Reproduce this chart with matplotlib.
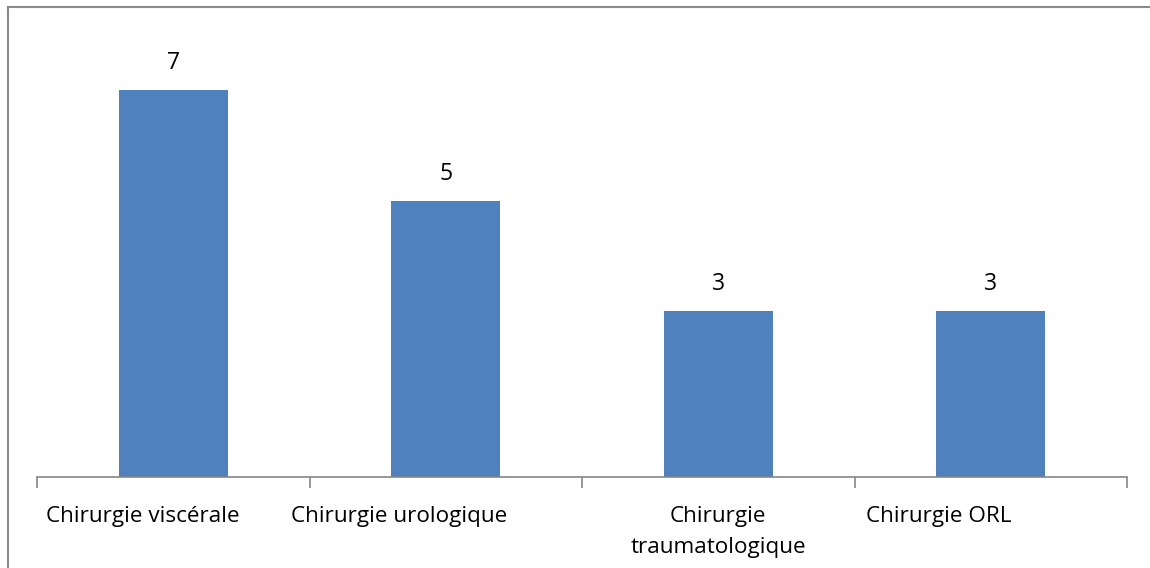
import matplotlib.pyplot as plt
from matplotlib.lines import Line2D

categories = ["Chirurgie viscérale", "Chirurgie urologique",
              "Chirurgie\ntraumatologique", "Chirurgie ORL"]
counts = [7, 5, 3, 3]
# horizontal shift of each category label, in category units
label_shift = [-0.113, -0.17, 0.0, -0.19]

plt.rcParams['font.family'] = ['Open Sans', 'DejaVu Sans']

W, H = 1150, 568
fig = plt.figure(figsize=(W / 100, H / 100), dpi=100)
ax = fig.add_axes([37 / W, 91 / H, 1090 / W, 442 / H])

x = range(len(categories))
bars = ax.bar(x, counts, width=0.4, color='#4F81BD')

ax.set_xlim(-0.5, len(categories) - 0.5)
ax.set_ylim(0, 8)
for s in ['top', 'right', 'left']:
    ax.spines[s].set_visible(False)
ax.spines['bottom'].set_color('#868686')
ax.spines['bottom'].set_linewidth(1.2)
ax.set_yticks([])

# tick marks at category boundaries
ax.set_xticks([i - 0.5 for i in range(len(categories) + 1)])
ax.set_xticklabels([])
ax.tick_params(axis='x', direction='out', length=8, width=1.2, color='#868686')

for i, (cat, sh) in enumerate(zip(categories, label_shift)):
    ax.text(i + sh, -0.53, cat, ha='center', va='top', fontsize=16.2,
            linespacing=1.62, color='black')

for b, v in zip(bars, counts):
    ax.text(b.get_x() + b.get_width() / 2, v + 0.27, str(v),
            ha='center', va='bottom', fontsize=16.5, color='black')

# outer frame (top and left edges)
fig.add_artist(Line2D([8 / W, 1], [1 - 7 / H, 1 - 7 / H], transform=fig.transFigure,
                      color='#8a8a8a', lw=1.5))
fig.add_artist(Line2D([8 / W, 8 / W], [0, 1 - 7 / H], transform=fig.transFigure,
                      color='#8a8a8a', lw=1.5))

fig.savefig('out.png', dpi=100)
